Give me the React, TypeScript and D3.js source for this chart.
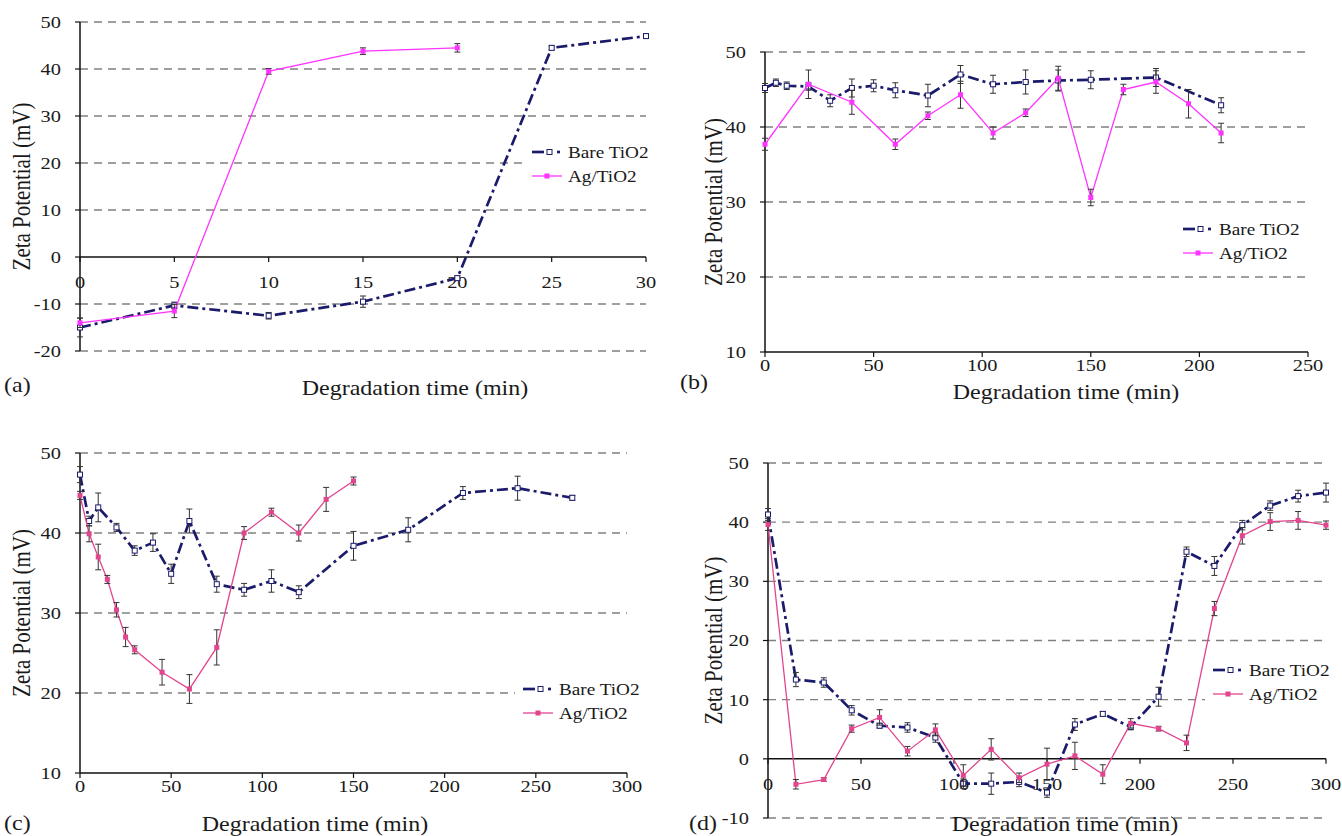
import React from 'react';
import * as d3 from 'd3';

// ---------- Panel (a) ----------
const aBareTime = [0, 5, 10, 15, 20, 25, 30];
const aBare = [-15, -10.3, -12.5, -9.5, -4.5, 44.5, 47];
const aBareErr = [2, 0.7, 0.7, 1.2, 0.5, 0.4, 0.5];
const aAgTime = [0, 5, 10, 15, 20];
const aAg = [-14, -11.5, 39.5, 43.8, 44.5];
const aAgErr = [1, 1.4, 0.6, 0.7, 0.9];

// ---------- Panel (b) ----------
const bBareTime = [0, 5, 10, 20, 30, 40, 50, 60, 75, 90, 105, 120, 135, 150, 180, 210];
const bBare = [45.2, 45.9, 45.5, 45.4, 43.5, 45.2, 45.5, 44.9, 44.2, 47.0, 45.7, 46.0, 46.2, 46.3, 46.6, 42.9];
const bBareErr = [0.6, 0.5, 0.5, 0.5, 0.8, 1.2, 0.8, 1.0, 1.5, 1.2, 1.2, 1.6, 1.4, 1.2, 1.2, 1.0];
const bAgTime = [0, 20, 40, 60, 75, 90, 105, 120, 135, 150, 165, 180, 195, 210];
const bAg = [37.7, 45.7, 43.3, 37.7, 41.5, 44.3, 39.2, 41.9, 46.5, 30.6, 45.0, 46.0, 43.1, 39.2];
const bAgErr = [0.8, 1.9, 1.6, 0.7, 0.5, 1.8, 0.8, 0.5, 1.6, 1.1, 0.7, 1.5, 1.9, 1.3];

// ---------- Panel (c) ----------
const cBareTime = [0, 5, 10, 20, 30, 40, 50, 60, 75, 90, 105, 120, 150, 180, 210, 240, 270];
const cBare = [47.3, 41.5, 43.2, 40.7, 37.8, 38.8, 34.9, 41.5, 33.6, 32.9, 34.0, 32.6, 38.4, 40.4, 45.0, 45.6, 44.4];
const cBareErr = [1.0, 0.6, 1.8, 0.5, 0.6, 1.1, 1.2, 1.5, 1.0, 0.8, 1.4, 0.8, 1.8, 1.5, 0.8, 1.5, 0.3];
const cAgTime = [0, 5, 10, 15, 20, 25, 30, 45, 60, 75, 90, 105, 120, 135, 150];
const cAg = [44.7, 39.9, 37.0, 34.2, 30.4, 27.0, 25.4, 22.6, 20.5, 25.7, 40.0, 42.6, 40.0, 44.2, 46.5];
const cAgErr = [0.5, 1.0, 1.6, 0.5, 0.9, 1.2, 0.5, 1.6, 1.8, 2.2, 0.8, 0.5, 1.0, 1.5, 0.5];

// ---------- Panel (d) ----------
const dTime = [0, 15, 30, 45, 60, 75, 90, 105, 120, 135, 150, 165, 180, 195, 210, 225, 240, 255, 270, 285, 300];
const dBare = [41.3, 13.4, 12.9, 8.2, 5.6, 5.3, 3.6, -4.2, -4.2, -3.9, -5.7, 5.8, 7.6, 5.4, 10.5, 35.0, 32.6, 39.5, 42.8, 44.4, 45.0];
const dBareErr = [1.0, 1.2, 0.8, 0.8, 0.4, 0.8, 0.8, 0.8, 1.8, 0.8, 0.8, 1.0, 0.4, 0.5, 1.6, 0.8, 1.6, 0.8, 0.8, 1.0, 1.6];
const dAg = [39.6, -4.3, -3.5, 5.1, 7.0, 1.3, 4.9, -2.8, 1.6, -3.2, -0.9, 0.5, -2.6, 6.0, 5.1, 2.7, 25.4, 37.7, 40.1, 40.3, 39.5];
const dAgErr = [1.0, 0.8, 0.3, 0.6, 1.3, 0.8, 1.0, 1.8, 1.8, 0.8, 2.7, 2.3, 1.6, 0.8, 0.4, 1.3, 1.2, 1.4, 1.5, 1.5, 0.7];

const seriesNames = ['Bare TiO2', 'Ag/TiO2'];
const xTitle = 'Degradation time (min)';
const yTitle = 'Zeta Potential (mV)';

const NAVY = '#1b1b6b';
const MAGENTA = '#ff33ff';
const PINK = '#e2448e';
const FONT = '"Liberation Serif", "Times New Roman", "DejaVu Serif", serif';
const BARE_DASH = '11,4,3,4';
const SX = 1.2; // horizontal stretch of the reference's text

type Series = { t: number[]; v: number[]; e: number[] };
type Cfg = {
  label: string;
  left: number; right: number; top: number; bottom: number;
  xDomain: [number, number]; xStep: number;
  yDomain: [number, number];
  xAxisAt?: number;
  tickDy: number;
  titleX: number; titleY: number;
  tagX: number; tagY: number;
  yTitleX: number;
  agColor: string;
  bare: Series; ag: Series;
  legendX: number; legendY: number; legendBox: [number, number, number, number];
};

function T({ x, y, size, anchor = 'start', children, dy }: {
  x: number; y: number; size: number; anchor?: string; children: React.ReactNode; dy?: string;
}) {
  return (
    <text transform={`translate(${x},${y}) scale(${SX},1)`} textAnchor={anchor as any} dy={dy}
      fontFamily={FONT} fontSize={size} fill="#1a1a1a">{children}</text>
  );
}

function Panel({ cfg }: { cfg: Cfg }) {
  const x = d3.scaleLinear().domain(cfg.xDomain).range([cfg.left, cfg.right]);
  const y = d3.scaleLinear().domain(cfg.yDomain).range([cfg.bottom, cfg.top]);
  const yTicks = d3.range(cfg.yDomain[0], cfg.yDomain[1] + 0.01, 10);
  const xTicks = d3.range(cfg.xDomain[0], cfg.xDomain[1] + 0.01, cfg.xStep);
  const axisY = cfg.xAxisAt !== undefined ? y(cfg.xAxisAt) : cfg.bottom;
  const line = d3.line<[number, number]>().x(d => x(d[0])).y(d => y(d[1]));
  const pts = (s: Series) => s.t.map((t, i) => [t, s.v[i]] as [number, number]);
  const gridTicks = yTicks.filter(v => Math.abs(y(v) - axisY) > 1);
  const [bx, by, bw, bh] = cfg.legendBox;

  const errBars = (s: Series, key: string) =>
    s.t.map((t, i) => {
      const cx = x(t);
      const y1 = y(s.v[i] + s.e[i]);
      const y2 = y(s.v[i] - s.e[i]);
      return (
        <g key={key + i} stroke="#333" strokeWidth={1}>
          <line x1={cx} x2={cx} y1={y1} y2={y2} />
          <line x1={cx - 3} x2={cx + 3} y1={y1} y2={y1} />
          <line x1={cx - 3} x2={cx + 3} y1={y2} y2={y2} />
        </g>
      );
    });

  const yMid = (cfg.top + cfg.bottom) / 2;

  return (
    <g>
      {gridTicks.map(v => (
        <line key={'g' + v} x1={cfg.left} x2={cfg.right} y1={y(v)} y2={y(v)}
          stroke="#808080" strokeWidth={1.4} strokeDasharray="8,6" />
      ))}
      <rect x={bx} y={by} width={bw} height={bh} fill="white" />
      <line x1={cfg.left} x2={cfg.left} y1={cfg.top} y2={cfg.bottom} stroke="#111" strokeWidth={1.5} />
      <line x1={cfg.left} x2={cfg.right} y1={axisY} y2={axisY} stroke="#111" strokeWidth={1.5} />
      {yTicks.map(v => (
        <g key={'yt' + v}>
          <line x1={cfg.left - 5} x2={cfg.left} y1={y(v)} y2={y(v)} stroke="#111" strokeWidth={1.2} />
          <T x={cfg.left - 19} y={y(v)} dy="0.35em" anchor="end" size={17}>{v}</T>
        </g>
      ))}
      {xTicks.map(v => (
        <g key={'xt' + v}>
          <line x1={x(v)} x2={x(v)} y1={axisY} y2={axisY + 5} stroke="#111" strokeWidth={1.2} />
          <T x={x(v)} y={axisY + cfg.tickDy} anchor="middle" size={17}>{v}</T>
        </g>
      ))}
      {/* Bare TiO2 */}
      <path d={line(pts(cfg.bare)) || ''} fill="none" stroke={NAVY} strokeWidth={2.7} strokeDasharray={BARE_DASH} />
      {errBars(cfg.bare, 'eb')}
      {cfg.bare.t.map((t, i) => (
        <rect key={'mb' + i} x={x(t) - 2.5} y={y(cfg.bare.v[i]) - 2.5} width={5} height={5}
          fill="white" stroke={NAVY} strokeWidth={1} />
      ))}
      {/* Ag/TiO2 */}
      <path d={line(pts(cfg.ag)) || ''} fill="none" stroke={cfg.agColor} strokeWidth={1.3} />
      {errBars(cfg.ag, 'ea')}
      {cfg.ag.t.map((t, i) => (
        <rect key={'ma' + i} x={x(t) - 2.5} y={y(cfg.ag.v[i]) - 2.5} width={5} height={5} fill={cfg.agColor} />
      ))}
      {/* legend */}
      <g>
        <line x1={cfg.legendX} x2={cfg.legendX + 12} y1={cfg.legendY} y2={cfg.legendY} stroke={NAVY} strokeWidth={2.7} />
        <rect x={cfg.legendX + 15} y={cfg.legendY - 2.5} width={5} height={5} fill="white" stroke={NAVY} strokeWidth={1} />
        <line x1={cfg.legendX + 25} x2={cfg.legendX + 28} y1={cfg.legendY} y2={cfg.legendY} stroke={NAVY} strokeWidth={2.7} />
        <T x={cfg.legendX + 36} y={cfg.legendY} dy="0.35em" size={16}>{seriesNames[0]}</T>
        <line x1={cfg.legendX} x2={cfg.legendX + 30} y1={cfg.legendY + 24} y2={cfg.legendY + 24} stroke={cfg.agColor} strokeWidth={1.3} />
        <rect x={cfg.legendX + 12.5} y={cfg.legendY + 21.5} width={5} height={5} fill={cfg.agColor} />
        <T x={cfg.legendX + 36} y={cfg.legendY + 24} dy="0.35em" size={16}>{seriesNames[1]}</T>
      </g>
      {/* titles */}
      <T x={cfg.titleX} y={cfg.titleY} anchor="middle" size={20}>{xTitle}</T>
      <T x={cfg.tagX} y={cfg.tagY} size={20}>{cfg.label}</T>
      <text transform={`translate(${cfg.yTitleX},${yMid}) rotate(-90) scale(1,${SX})`} textAnchor="middle" dy="0.35em"
        fontFamily={FONT} fontSize={21} fill="#1a1a1a">{yTitle}</text>
    </g>
  );
}

const panels: Cfg[] = [
  {
    label: '(a)', left: 80, right: 646, top: 22, bottom: 351,
    xDomain: [0, 30], xStep: 5, yDomain: [-20, 50], xAxisAt: 0, tickDy: 31,
    titleX: 415, titleY: 395, tagX: 4, tagY: 392, yTitleX: 21, agColor: MAGENTA,
    bare: { t: aBareTime, v: aBare, e: aBareErr }, ag: { t: aAgTime, v: aAg, e: aAgErr },
    legendX: 532, legendY: 152, legendBox: [528, 138, 120, 50],
  },
  {
    label: '(b)', left: 765, right: 1308, top: 52, bottom: 352,
    xDomain: [0, 250], xStep: 50, yDomain: [10, 50], tickDy: 19,
    titleX: 1066, titleY: 399, tagX: 680, tagY: 389, yTitleX: 713, agColor: MAGENTA,
    bare: { t: bBareTime, v: bBare, e: bBareErr }, ag: { t: bAgTime, v: bAg, e: bAgErr },
    legendX: 1183, legendY: 229, legendBox: [1178, 216, 125, 50],
  },
  {
    label: '(c)', left: 80, right: 627, top: 453, bottom: 773,
    xDomain: [0, 300], xStep: 50, yDomain: [10, 50], tickDy: 19,
    titleX: 315, titleY: 831, tagX: 4, tagY: 830, yTitleX: 21, agColor: PINK,
    bare: { t: cBareTime, v: cBare, e: cBareErr }, ag: { t: cAgTime, v: cAg, e: cAgErr },
    legendX: 523, legendY: 689, legendBox: [515, 676, 120, 50],
  },
  {
    label: '(d)', left: 768, right: 1326, top: 463, bottom: 818,
    xDomain: [0, 300], xStep: 50, yDomain: [-10, 50], xAxisAt: 0, tickDy: 31,
    titleX: 1065, titleY: 831, tagX: 689, tagY: 830, yTitleX: 713, agColor: PINK,
    bare: { t: dTime, v: dBare, e: dBareErr }, ag: { t: dTime, v: dAg, e: dAgErr },
    legendX: 1213, legendY: 670, legendBox: [1205, 657, 125, 50],
  },
];

export default function App() {
  return (
    <svg width={1342} height={836} style={{ position: 'absolute', left: 0, top: 0, background: 'white' }}>
      <rect x={0} y={0} width={1342} height={836} fill="white" />
      {panels.map(p => <Panel key={p.label} cfg={p} />)}
    </svg>
  );
}
